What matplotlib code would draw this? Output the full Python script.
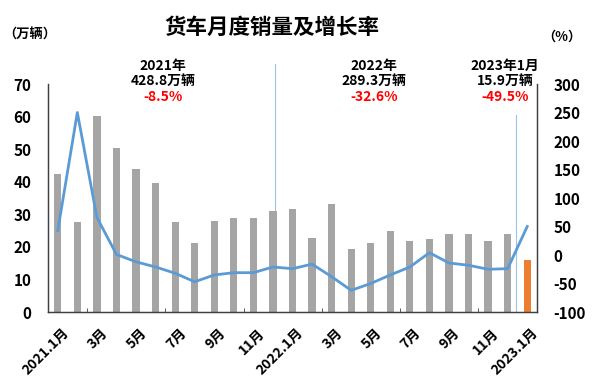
import matplotlib
matplotlib.use("Agg")
import matplotlib.pyplot as plt
import matplotlib.transforms as mtransforms
import numpy as np

plt.rcParams['font.family'] = ['Noto Sans CJK SC', 'DejaVu Sans']

months = ["2021.1月", "2月", "3月", "4月", "5月", "6月", "7月", "8月", "9月", "10月", "11月", "12月",
          "2022.1月", "2月", "3月", "4月", "5月", "6月", "7月", "8月", "9月", "10月", "11月", "12月",
          "2023.1月"]
sales = [42.3, 27.5, 60.1, 50.2, 43.8, 39.6, 27.5, 21.1, 27.8, 28.8, 29.0, 31.1,
         31.6, 22.8, 33.3, 19.2, 21.1, 24.8, 21.7, 22.5, 23.9, 23.9, 21.7, 24.0,
         15.9]
growth = [43, 250, 66, 1, -12, -21, -32, -47, -35, -31, -31, -21,
          -24, -16, -38, -62, -50, -35, -21, 4, -14, -18, -25, -24,
          50]
left_ticks = [0, 10, 20, 30, 40, 50, 60, 70]
right_ticks = [-100, -50, 0, 50, 100, 150, 200, 250, 300]
notes = [("2021年", "428.8万辆", "-8.5%"),
         ("2022年", "289.3万辆", "-32.6%"),
         ("2023年1月", "15.9万辆", "-49.5%")]

fig = plt.figure(figsize=(6, 3.85), dpi=100)
ax = fig.add_axes([0.08, 0.1896, 0.815, 0.5922])
ax2 = ax.twinx()

x = np.arange(len(months))
colors = ["#A5A5A5"] * (len(months) - 1) + ["#ED7D31"]
ax.bar(x, sales, width=0.37, color=colors, zorder=2)
ax.set_ylim(0, 70)
ax.set_xlim(-0.5, len(months) - 0.5)
ax.set_yticks(left_ticks)
ax.set_yticklabels([str(t) for t in left_ticks], fontsize=11, fontweight='bold')
ax.tick_params(axis='y', length=0, pad=12)

ax2.plot(x, growth, color="#5B9BD5", linewidth=2.0, zorder=3)
ax2.set_ylim(-100, 300)
ax2.set_yticks(right_ticks)
ax2.set_yticklabels([str(t) for t in right_ticks], fontsize=11, fontweight='bold')
ax2.tick_params(axis='y', length=0, pad=12)

label_pos = x[::2]
ax.set_xticks(label_pos)
ax.set_xticklabels([months[i] for i in label_pos], rotation=45, ha='right',
                   rotation_mode='anchor', fontsize=10, fontweight='bold')
ax.tick_params(axis='x', length=0, pad=10)
offset = mtransforms.ScaledTranslation(4 / 100, 0, fig.dpi_scale_trans)
for lab in ax.get_xticklabels():
    lab.set_transform(lab.get_transform() + offset)
ax.set_xticks(np.arange(1.5, len(months) - 1, 4), minor=True)
ax.tick_params(axis='x', which='minor', length=3, direction='in', color='#404040')

for a in (ax, ax2):
    a.spines['top'].set_visible(False)
    for s in ('left', 'right', 'bottom'):
        a.spines[s].set_color('#404040')
        a.spines[s].set_linewidth(0.9)

# separator lines
ax.plot([11.1, 11.1], [0, 76], color="#9DC3E6", linewidth=0.8, clip_on=False, zorder=1)
ax.plot([23.45, 23.45], [0, 60.5], color="#9DC3E6", linewidth=0.8, clip_on=False, zorder=1)

# annotations
note_x = [163, 374, 505]
for (yr, tot, pct), px in zip(notes, note_x):
    fx = px / 600
    fig.text(fx, 1 - 66 / 385, yr, ha='center', va='center', fontsize=10, fontweight='bold')
    fig.text(fx, 1 - 81 / 385, tot, ha='center', va='center', fontsize=10, fontweight='bold')
    fig.text(fx, 1 - 97 / 385, pct, ha='center', va='center', fontsize=10, fontweight='bold',
             color="#FF0000")

fig.text(272 / 600, 1 - 27 / 385, "货车月度销量及增长率", ha='center', va='center',
         fontsize=15.5, fontweight='bold')
fig.text(30 / 600, 1 - 35 / 385, "（万辆）", ha='center', va='center', fontsize=9.5, fontweight='bold')
fig.text(562 / 600, 1 - 37 / 385, "（%）", ha='center', va='center', fontsize=9.5, fontweight='bold')

fig.savefig("out.png", dpi=100)
